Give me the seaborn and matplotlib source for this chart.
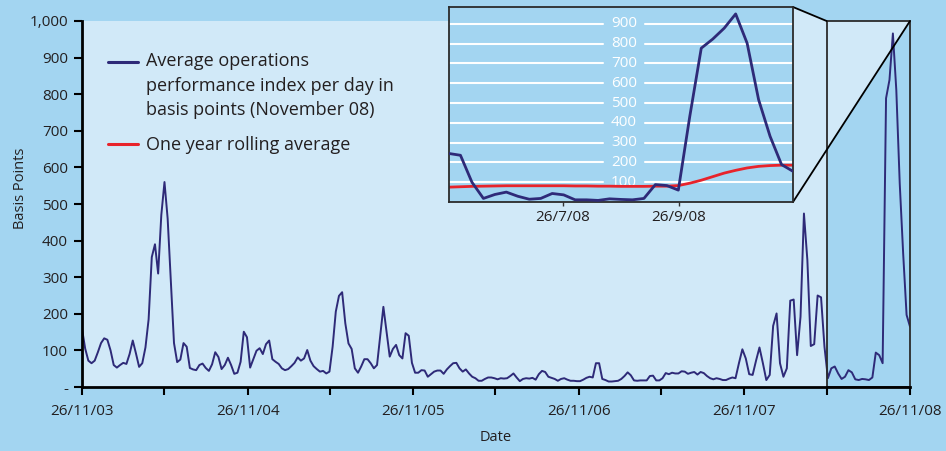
import numpy as np
import pandas as pd
import matplotlib
matplotlib.use("Agg")
import matplotlib.pyplot as plt
import matplotlib.dates as mdates
from matplotlib.lines import Line2D
from matplotlib.patches import Polygon, Rectangle
from matplotlib.ticker import FuncFormatter
from matplotlib.transforms import blended_transform_factory
import seaborn as sns

# weekly readings 26/11/03 -> 7/11/07 (basis points)
weekly_bp = [
    159, 105, 72, 65, 72, 95, 120, 133, 129, 100, 60, 53, 60, 66, 63, 90, 127, 92, 55, 65, 108, 185,
    355, 390, 310, 470, 560, 460, 290, 120, 68, 75, 120, 110, 52, 48, 46, 60, 64, 52, 44, 62, 95, 82,
    49, 60, 80, 60, 36, 39, 69, 151, 136, 53, 76, 99, 106, 90, 117, 127, 76, 69, 63, 51, 46, 49,
    57, 66, 81, 72, 78, 101, 72, 57, 49, 42, 44, 37, 42, 110, 206, 249, 259, 174, 119, 104, 51, 39,
    56, 76, 76, 65, 51, 60, 140, 219, 151, 83, 104, 115, 87, 78, 147, 140, 66, 39, 39, 46, 45, 28,
    35, 42, 45, 45, 36, 48, 57, 65, 66, 51, 42, 48, 37, 28, 24, 17, 17, 22, 26, 26, 24, 21,
    24, 23, 24, 30, 37, 26, 16, 22, 24, 23, 25, 20, 35, 44, 41, 28, 25, 22, 17, 22, 24, 20,
    17, 17, 16, 16, 20, 25, 28, 26, 65, 65, 22, 19, 15, 15, 16, 17, 22, 30, 40, 32, 18, 17,
    18, 18, 18, 30, 31, 18, 18, 24, 38, 35, 39, 37, 37, 43, 42, 36, 39, 41, 34, 41, 38, 30,
    24, 21, 24, 22, 19, 19, 23, 26,
]
# last year is sampled more densely, 7/11/07 -> 26/11/08
recent_bp = [
    24, 65, 103, 78, 35, 33, 72, 108, 65, 19, 33, 167, 201, 65, 28, 51, 236, 239, 87, 192, 474, 347,
    112, 117, 250, 245, 110, 24, 51, 56, 37, 22, 28, 46, 40, 21, 19, 22, 21, 19, 26, 94, 87, 65,
    789, 839, 966, 811, 556, 365, 197, 165,
]

# zoomed panel 26/5/08 -> 26/11/08
zoom_bp = [245, 236, 100, 18, 38, 50, 29, 14, 18, 43, 36, 11, 11, 8, 16, 13, 11, 18, 88, 83, 60,
           433, 777, 823, 878, 950, 802, 517, 332, 189, 155]
zoom_rolling = [75, 77, 79, 80, 81, 82, 82, 82, 82, 82, 82, 81, 81, 80, 80, 79, 79, 79, 80, 80, 83,
                95, 110, 128, 146, 160, 172, 180, 184, 186, 186]

y_ticks = [0, 100, 200, 300, 400, 500, 600, 700, 800, 900, 1000]
zoom_y_ticks = [100, 200, 300, 400, 500, 600, 700, 800, 900]
zoom_x_ticks = ["2008-07-26", "2008-09-26"]

label_main = "Average operations\nperformance index per day in\nbasis points (November 08)"
label_roll = "One year rolling average"

OUTER = "#A3D5F1"
INNER = "#D1E9F8"
NAVY = "#2E2A78"
RED = "#E8232B"
INK = "#231F20"


def main():
    sns.set_style("ticks")
    plt.rcParams["font.family"] = ["Open Sans", "DejaVu Sans"]

    start, end = pd.Timestamp("2003-11-26"), pd.Timestamp("2008-11-26")
    d1 = pd.date_range(start, periods=len(weekly_bp), freq="7D")
    d2 = pd.date_range(d1[-1] + pd.Timedelta(days=7), end, periods=len(recent_bp))
    df = pd.DataFrame({"Date": list(d1) + list(d2), "bp": weekly_bp + recent_bp})

    zoom_start = pd.Timestamp("2008-05-26")
    zdf = pd.DataFrame({
        "Date": pd.date_range(zoom_start, end, periods=len(zoom_bp)),
        "bp": zoom_bp,
        "roll": zoom_rolling,
    })

    fig = plt.figure(figsize=(9.46, 4.51), dpi=100)
    fig.patch.set_facecolor(OUTER)

    ax = fig.add_axes([82 / 946, 64 / 451, 828 / 946, 366 / 451])
    ax.set_facecolor(INNER)
    sns.lineplot(data=df, x="Date", y="bp", ax=ax, color=NAVY, linewidth=1.4, zorder=2)
    ax.set_xlim(start, end)
    ax.set_ylim(0, 1000)

    # highlighted half year: fill below everything, outline on top
    x0 = mdates.date2num(zoom_start)
    x1 = mdates.date2num(end)
    ax.add_patch(Rectangle((x0, 0), x1 - x0, 1000, facecolor=OUTER, edgecolor="none", zorder=0.5))
    ax.add_patch(Rectangle((x0, 0), x1 - x0, 1000, facecolor="none", edgecolor="#2b2b2b",
                           linewidth=1.3, zorder=3, clip_on=False))

    for side in ["top", "right"]:
        ax.spines[side].set_visible(False)
    for side in ["left", "bottom"]:
        ax.spines[side].set_linewidth(2)
        ax.spines[side].set_color("black")
        ax.spines[side].set_zorder(4)

    ax.set_yticks(y_ticks)
    ax.yaxis.set_major_formatter(FuncFormatter(lambda v, p: "-" if v == 0 else f"{v:,.0f}"))
    years = pd.date_range(start, end, freq=pd.DateOffset(years=1))
    halves = years[:-1] + pd.DateOffset(months=6)
    ax.set_xticks(years)
    ax.set_xticks(halves, minor=True)
    ax.xaxis.set_major_formatter(mdates.DateFormatter("%d/%m/%y"))
    ax.tick_params(which="both", length=6, width=1.5, color="black", labelsize=11,
                   labelcolor=INK, pad=4)
    ax.tick_params(axis="x", pad=6)

    ax.set_ylabel("Basis Points", fontsize=10.5, color=INK)
    ax.set_xlabel("Date", fontsize=10.5, color=INK)
    ax.yaxis.set_label_coords(-0.065, 0.544)
    ax.xaxis.set_label_coords(0.5, -0.118)

    handles = [Line2D([], [], color=NAVY, linewidth=2.2), Line2D([], [], color=RED, linewidth=2.2)]
    leg = ax.legend(handles, [label_main, label_roll], loc="upper left",
                    bbox_to_anchor=(0.031, 0.914), frameon=False, fontsize=13,
                    handlelength=1.7, handletextpad=0.45, labelspacing=0.95,
                    borderpad=0, borderaxespad=0)
    for t in leg.get_texts():
        t.set_color(INK)
        t.set_linespacing(1.45)

    # zoomed panel
    ins = fig.add_axes([449 / 946, 249 / 451, 344 / 946, 195 / 451])
    ins.set_facecolor(OUTER)
    ins.set_xlim(zoom_start, end)
    ins.set_ylim(0, 985)
    for v in zoom_y_ticks:
        ins.axhline(v, xmin=0, xmax=0.448, color="white", linewidth=1.5, zorder=1)
        ins.axhline(v, xmin=0.57, xmax=1, color="white", linewidth=1.5, zorder=1)
    tr = blended_transform_factory(ins.transAxes, ins.transData)
    for v in zoom_y_ticks:
        ins.text(0.509, v, str(v), transform=tr, ha="center", va="center",
                 color="white", fontsize=11, zorder=1.5)
    sns.lineplot(data=zdf, x="Date", y="roll", ax=ins, color=RED, linewidth=2, zorder=2)
    sns.lineplot(data=zdf, x="Date", y="bp", ax=ins, color=NAVY, linewidth=2, zorder=3)
    ins.set_xlabel("")
    ins.set_ylabel("")
    ins.set_yticks([])
    zt = pd.to_datetime(zoom_x_ticks)
    ins.set_xticks(zt)
    ins.set_xticklabels([f"{d.day}/{d.month}/{d:%y}" for d in zt])
    ins.tick_params(axis="x", length=3, width=1, color="#333333", labelsize=11,
                    labelcolor=INK, pad=3)
    for s in ins.spines.values():
        s.set_color("#2b2b2b")
        s.set_linewidth(1.3)

    # zoom cone joining panel and highlighted span
    to_fig = fig.transFigure.inverted()
    pts = [
        ins.transAxes.transform((1, 1)),
        ax.transData.transform((x0, 1000)),
        ax.transData.transform((x1, 1000)),
        ins.transAxes.transform((1, 0)),
    ]
    pts = to_fig.transform(np.array(pts))
    ax.add_patch(Polygon(pts, closed=True, facecolor=INNER, edgecolor="none",
                         transform=fig.transFigure, clip_on=False, zorder=1))
    for a, b in [(pts[0], pts[1]), (pts[3], pts[2])]:
        ax.add_line(Line2D([a[0], b[0]], [a[1], b[1]], color="black", linewidth=1.3,
                           transform=fig.transFigure, clip_on=False, zorder=3))

    # put the first legend handle beside the first line of its label
    fig.canvas.draw()
    texts = leg.get_texts()
    h_block = texts[0].get_window_extent().height
    h_line = texts[1].get_window_extent().height
    shift = (h_block - h_line) / 2 * 72 / fig.dpi
    h0 = leg.legend_handles[0]
    h0.set_ydata(np.asarray(h0.get_ydata()) + shift)

    fig.savefig("out.png", dpi=100, facecolor=OUTER)
    plt.close(fig)


if __name__ == "__main__":
    main()
